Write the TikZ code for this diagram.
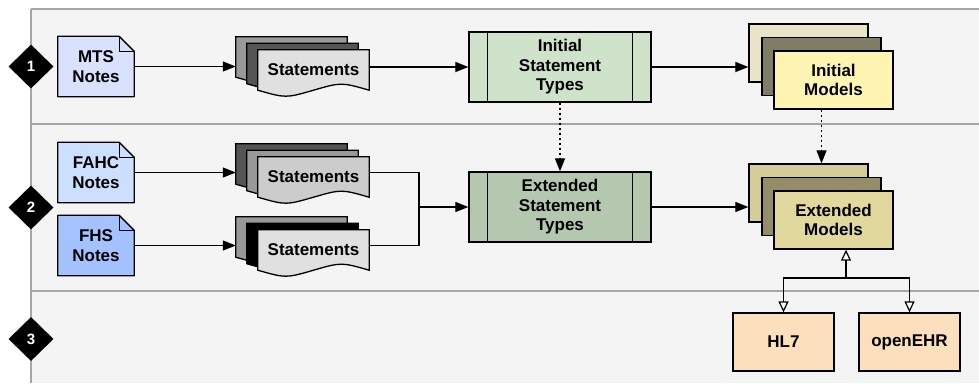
\documentclass[tikz,border=0pt]{standalone}
\usepackage{fontspec}
\setmainfont{Liberation Sans}
\usetikzlibrary{arrows.meta,shapes.geometric,calc}
\pgfdeclarelayer{lanes}
\pgfdeclarelayer{shapes}
\pgfsetlayers{lanes,shapes,main}
\definecolor{lanebg}{HTML}{F4F4F4}
\definecolor{laneline}{HTML}{A6A6A6}
\definecolor{mtsfill}{HTML}{DAE1FC}
\definecolor{fahcfill}{HTML}{CCDFFF}
\definecolor{fhsfill}{HTML}{A3C2FF}
\definecolor{istfill}{HTML}{CFE3CB}
\definecolor{estfill}{HTML}{B3C8AE}
\definecolor{imA}{HTML}{E8E4C5}
\definecolor{imB}{HTML}{807D66}
\definecolor{imC}{HTML}{FFF5B3}
\definecolor{emA}{HTML}{D6CC9A}
\definecolor{emB}{HTML}{958C69}
\definecolor{emC}{HTML}{E0D89C}
\definecolor{stdfill}{HTML}{FCE0BE}
\definecolor{gA}{HTML}{999999}
\definecolor{gB}{HTML}{555555}
\definecolor{gC}{HTML}{E0E0E0}
\definecolor{gD}{HTML}{CCCCCC}
\tikzset{
  lbl/.style={font=\bfseries\fontsize{17}{19.5}\selectfont, align=center, text=black},
  notebox/.style={lbl, minimum width=76pt, minimum height=60pt, inner sep=0pt},
  sheetbox/.style={lbl, minimum width=111pt, minimum height=40pt, inner sep=0pt},
  procbox/.style={lbl, draw=black, line width=1.3pt, minimum width=182pt, minimum height=70pt, inner sep=0pt},
  modelbox/.style={lbl, draw=black, line width=1.3pt, minimum width=119pt, minimum height=58pt, inner sep=0pt},
  stdbox/.style={lbl, draw=black, line width=1.3pt, fill=stdfill, minimum width=101pt, minimum height=58pt, inner sep=0pt},
  lanemark/.style={diamond, fill=black, minimum width=45pt, minimum height=44pt, inner sep=0pt,
    text=white, font=\bfseries\fontsize{15}{15}\selectfont},
  flow/.style={line width=1.2pt, -{Triangle[length=13pt,width=10pt]}},
  dotflow/.style={line width=1.2pt, dash pattern=on 2pt off 3pt, -{Triangle[length=13pt,width=10pt]}},
  genflow/.style={line width=1.2pt, -{Triangle[length=11pt,width=10pt,fill=white]}},
  plainline/.style={line width=1.2pt},
  laneborder/.style={draw=laneline, line width=1.5pt},
}
\newcommand{\notepaper}[2]{%
  \begin{pgfonlayer}{shapes}
  \draw[line width=1.3pt, fill=#2, line join=round] (#1.south west) -- (#1.north west)
    -- ([xshift=-15pt]#1.north east) -- ([yshift=-15pt]#1.north east) -- (#1.south east) -- cycle;
  \draw[line width=1pt, line join=round] ([xshift=-15pt]#1.north east) -- ([xshift=-15pt,yshift=-15pt]#1.north east) -- ([yshift=-15pt]#1.north east);
  \end{pgfonlayer}}
\newcommand{\wavesheet}[2]{%
  \begin{pgfonlayer}{shapes}
  \draw[line width=1.3pt, fill=#2] (#1.north west) -- (#1.north east) -- (#1.south east)
    .. controls ([xshift=-28pt,yshift=8pt]#1.south east) .. (#1.south)
    .. controls ([xshift=28pt,yshift=-8pt]#1.south west) .. (#1.south west) -- cycle;
  \end{pgfonlayer}}
\begin{document}
\begin{tikzpicture}[x=1pt,y=-1pt]
\useasboundingbox (0,0) rectangle (979,383);
% lanes
\begin{pgfonlayer}{lanes}
\fill[lanebg] (31,9) rectangle (979,383);
\draw[laneborder] (31,9) -- (979,9);
\draw[laneborder] (31,124) -- (979,124);
\draw[laneborder] (31,291) -- (979,291);
\draw[laneborder] (31,9) -- (31,383);
\end{pgfonlayer}
\node[lanemark] (l1) at (31,66.5) {1};
\node[lanemark] (l2) at (31,207.5) {2};
\node[lanemark] (l3) at (31,339) {3};
% notes
\node[notebox] (mts) at (96,66.5) {MTS\\Notes};
\notepaper{mts}{mtsfill}
\node[notebox] (fahc) at (96,172.5) {FAHC\\Notes};
\notepaper{fahc}{fahcfill}
\node[notebox] (fhs) at (96,245.5) {FHS\\Notes};
\notepaper{fhs}{fhsfill}
% statements stacks
\node[sheetbox] (s1c) at (291.5,57) {};
\node[sheetbox] (s1b) at (302.5,63.5) {};
\node[sheetbox] (s1) at (313.5,70) {Statements};
\wavesheet{s1c}{gA}\wavesheet{s1b}{gB}\wavesheet{s1}{gC}
\node[sheetbox] (s2c) at (291.5,164) {};
\node[sheetbox] (s2b) at (302.5,170.5) {};
\node[sheetbox] (s2) at (313.5,177) {Statements};
\wavesheet{s2c}{gB}\wavesheet{s2b}{gA}\wavesheet{s2}{gD}
\node[sheetbox] (s3c) at (291.5,237) {};
\node[sheetbox] (s3b) at (302.5,243.5) {};
\node[sheetbox] (s3) at (313.5,250) {Statements};
\wavesheet{s3c}{gA}\wavesheet{s3b}{black}\wavesheet{s3}{gC}
% statement types
\node[procbox, fill=istfill] (ist) at (560,67) {Initial\\Statement\\Types};
\draw[line width=1.3pt] ([xshift=19pt]ist.north west) -- ([xshift=19pt]ist.south west);
\draw[line width=1.3pt] ([xshift=-19pt]ist.north east) -- ([xshift=-19pt]ist.south east);
\node[procbox, fill=estfill] (est) at (560,207) {Extended\\Statement\\Types};
\draw[line width=1.3pt] ([xshift=19pt]est.north west) -- ([xshift=19pt]est.south west);
\draw[line width=1.3pt] ([xshift=-19pt]est.north east) -- ([xshift=-19pt]est.south east);
% models
\node[modelbox, fill=imA] (im3) at (808.5,53) {};
\node[modelbox, fill=imB] (im2) at (821.5,66.5) {};
\node[modelbox, fill=imC] (im1) at (833.5,80) {Initial\\Models};
\node[modelbox, fill=emA] (em3) at (808.5,193) {};
\node[modelbox, fill=emB] (em2) at (821.5,206.5) {};
\node[modelbox, fill=emC] (em1) at (833.5,220) {Extended\\Models};
% standards
\node[stdbox] (hl7) at (783.5,342) {HL7};
\node[stdbox] (ehr) at (909.5,342) {openEHR};
% connectors
\coordinate (J) at (419,207);
\coordinate (K) at (846,278);
\draw[flow] (mts.east) -- (mts.east -| s1c.west);
\draw[flow] (fahc.east) -- (fahc.east -| s2c.west);
\draw[flow] (fhs.east) -- (fhs.east -| s3c.west);
\draw[flow] (ist.west -| s1.east) -- (ist.west);
\draw[plainline] (fahc.east -| s2.east) -| (J);
\draw[plainline] (fhs.east -| s3.east) -| (J);
\draw[flow] (J) -- (est.west);
\draw[flow] (ist.east) -- (ist.east -| im3.west);
\draw[flow] (est.east) -- (est.east -| em3.west);
\draw[dotflow] (ist.south) -- (est.north);
\draw[dotflow] (im2.center |- im1.south) -- (im2.center |- em3.north);
\draw[genflow] (K) -- (K |- em1.south);
\draw[genflow] (K) -| (hl7.north);
\draw[genflow] (K) -| (ehr.north);
\end{tikzpicture}
\end{document}
